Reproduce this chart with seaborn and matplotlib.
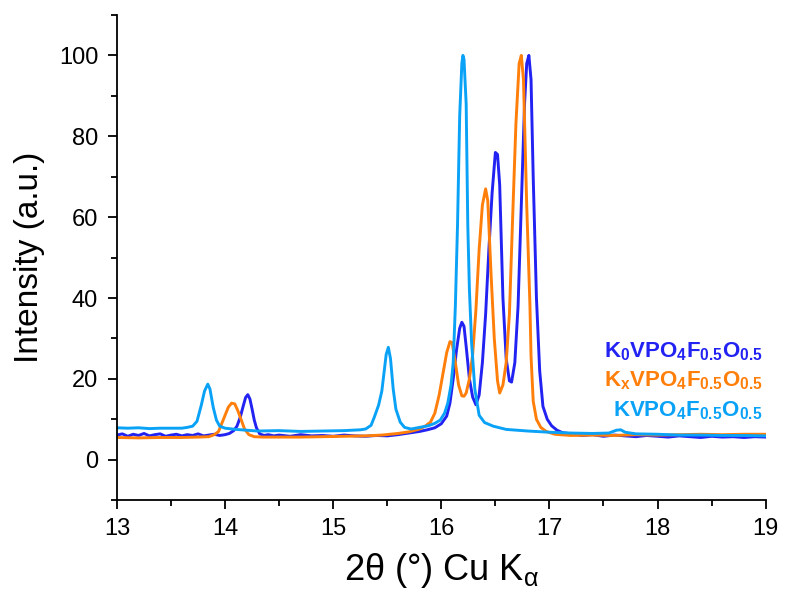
import matplotlib
matplotlib.use("Agg")
import matplotlib.pyplot as plt
import seaborn as sns
import pandas as pd
from matplotlib.ticker import MultipleLocator

# K0VPO4F0.5O0.5 pattern (2theta, intensity)
k0_x = [13.00, 13.05, 13.10, 13.15, 13.20, 13.25, 13.30, 13.35, 13.40, 13.45,
        13.50, 13.55, 13.60, 13.65, 13.70, 13.75, 13.80, 13.85, 13.90, 13.95,
        14.00, 14.04, 14.08, 14.11, 14.14, 14.17, 14.19, 14.21, 14.23, 14.25,
        14.27, 14.29, 14.32, 14.36, 14.40, 14.45, 14.50, 14.60, 14.70, 14.80,
        14.90, 15.00, 15.10, 15.20, 15.30, 15.40, 15.50, 15.60, 15.70, 15.80,
        15.87, 15.94, 16.00, 16.05, 16.08, 16.11, 16.14, 16.17, 16.19, 16.21,
        16.23, 16.26, 16.29, 16.32, 16.35, 16.38, 16.41, 16.44, 16.47, 16.50,
        16.52, 16.54, 16.57, 16.60, 16.63, 16.65, 16.68, 16.71, 16.74, 16.77,
        16.79, 16.81, 16.83, 16.85, 16.88, 16.91, 16.94, 16.98, 17.02, 17.07,
        17.12, 17.20, 17.30, 17.40, 17.50, 17.60, 17.70, 17.80, 17.90, 18.00,
        18.10, 18.20, 18.30, 18.40, 18.50, 18.60, 18.70, 18.80, 18.90, 19.00]
k0_y = [6.1, 6.4, 5.8, 6.3, 6.0, 6.5, 5.9, 6.2, 6.4, 5.8,
        6.1, 6.3, 5.9, 6.2, 6.0, 6.4, 5.9, 6.1, 6.3, 6.0,
        6.2, 6.5, 7.2, 8.3, 10.5, 13.5, 15.4, 16.1, 15.0, 12.5,
        9.8, 7.9, 6.4, 6.0, 6.2, 5.9, 6.1, 5.8, 6.2, 5.9,
        6.0, 5.8, 6.1, 5.9, 5.8, 6.0, 5.9, 6.2, 6.6, 7.0,
        7.4, 7.9, 8.9, 10.8, 14.0, 20.0, 27.0, 32.5, 34.0, 33.0,
        28.0, 20.0, 15.5, 13.6, 16.0, 24.0, 36.0, 52.0, 66.0, 76.0,
        75.5, 68.0, 40.0, 25.0, 19.5, 19.2, 24.0, 38.0, 63.0, 88.0,
        98.0, 100.0, 94.0, 70.0, 40.0, 22.0, 13.2, 10.0, 8.4, 7.3,
        6.7, 6.4, 6.0, 6.2, 5.8, 6.1, 5.9, 5.7, 6.0, 5.8,
        5.6, 5.9, 5.7, 5.5, 5.8, 5.6, 5.7, 5.5, 5.7, 5.6]

# KxVPO4F0.5O0.5 pattern
kx_x = [13.00, 13.20, 13.40, 13.60, 13.75, 13.85, 13.90, 13.94, 13.97, 14.00,
        14.03, 14.06, 14.09, 14.12, 14.15, 14.18, 14.22, 14.27, 14.35, 14.50,
        14.70, 14.90, 15.10, 15.30, 15.45, 15.60, 15.70, 15.80, 15.85, 15.90,
        15.94, 15.98, 16.02, 16.05, 16.08, 16.10, 16.13, 16.16, 16.19, 16.21,
        16.23, 16.26, 16.29, 16.32, 16.35, 16.38, 16.41, 16.43, 16.46, 16.49,
        16.52, 16.54, 16.57, 16.60, 16.63, 16.66, 16.69, 16.72, 16.74, 16.76,
        16.79, 16.82, 16.83, 16.85, 16.88, 16.92, 16.97, 17.05, 17.20, 17.40,
        17.60, 17.80, 18.00, 18.20, 18.40, 18.60, 18.80, 19.00]
kx_y = [5.5, 5.4, 5.5, 5.5, 5.6, 5.7, 6.2, 7.0, 9.0, 11.0,
        13.0, 14.0, 13.8, 12.0, 9.8, 7.6, 6.2, 5.7, 5.6, 5.6,
        5.6, 5.7, 5.8, 5.9, 6.1, 6.5, 6.9, 7.6, 8.3, 9.3,
        11.5, 16.0, 22.0, 26.5, 29.2, 29.0, 24.0, 18.5, 15.8, 15.7,
        16.5, 20.0, 26.0, 37.0, 52.0, 63.0, 67.0, 64.0, 46.0, 30.0,
        19.5, 16.5, 18.5, 24.0, 36.0, 60.0, 83.0, 98.0, 100.0, 94.0,
        63.0, 38.0, 25.6, 14.5, 10.0, 8.0, 7.0, 6.3, 6.0, 6.1,
        6.0, 6.2, 6.1, 6.2, 6.3, 6.2, 6.3, 6.3]

# KVPO4F0.5O0.5 pattern
kv_x = [13.00, 13.10, 13.20, 13.30, 13.40, 13.50, 13.60, 13.65, 13.70, 13.74,
        13.78, 13.81, 13.84, 13.86, 13.89, 13.92, 13.95, 14.00, 14.10, 14.20,
        14.30, 14.50, 14.70, 14.90, 15.10, 15.25, 15.30, 15.35, 15.38, 15.42,
        15.45, 15.47, 15.49, 15.51, 15.53, 15.555, 15.58, 15.62, 15.66, 15.72,
        15.80, 15.88, 15.94, 15.99, 16.03, 16.06, 16.09, 16.11, 16.13, 16.15,
        16.17, 16.19, 16.20, 16.21, 16.23, 16.245, 16.26, 16.28, 16.31, 16.35,
        16.40, 16.48, 16.60, 16.80, 17.00, 17.20, 17.40, 17.55, 17.62, 17.66,
        17.70, 17.80, 18.00, 18.20, 18.40, 18.60, 18.80, 19.00]
kv_y = [7.9, 7.8, 7.9, 7.7, 7.8, 7.8, 7.8, 8.0, 8.3, 9.5,
        13.5, 17.0, 18.7, 17.5, 13.0, 9.8, 8.3, 7.8, 7.5, 7.3,
        7.1, 7.2, 7.0, 7.1, 7.2, 7.4, 7.6, 8.5, 10.5, 13.5,
        17.0, 21.5, 26.0, 27.8, 25.0, 17.5, 12.5, 9.3, 8.0, 7.6,
        8.0, 8.4, 9.0, 9.8, 11.5, 14.0, 18.5, 24.0, 38.0, 58.0,
        85.0, 98.0, 100.0, 99.0, 88.0, 58.0, 42.0, 29.0, 17.5, 11.0,
        9.2, 8.3, 7.5, 7.1, 6.8, 6.6, 6.5, 6.6, 7.3, 7.4,
        6.8, 6.4, 6.3, 6.1, 6.1, 6.0, 6.0, 5.9]

series_labels = [r"$\mathbf{K_0VPO_4F_{0.5}O_{0.5}}$",
                 r"$\mathbf{K_xVPO_4F_{0.5}O_{0.5}}$",
                 r"$\mathbf{KVPO_4F_{0.5}O_{0.5}}$"]
series_colors = ["#2222F2", "#FF7F0A", "#0AA2F7"]
label_y = [26.8, 19.6, 12.2]

sns.set_theme(style="ticks")
plt.rcParams["font.family"] = ["Liberation Sans", "DejaVu Sans"]
plt.rcParams["mathtext.fontset"] = "custom"
plt.rcParams["mathtext.rm"] = "Liberation Sans"
plt.rcParams["mathtext.it"] = "Liberation Sans:italic"
plt.rcParams["mathtext.bf"] = "Liberation Sans:bold"

frames = []
for name, xs, ys in zip(["K0", "Kx", "KV"], [k0_x, kx_x, kv_x], [k0_y, kx_y, kv_y]):
    frames.append(pd.DataFrame({"two_theta": xs, "intensity": ys, "sample": name}))
df = pd.concat(frames, ignore_index=True)

fig = plt.figure(figsize=(7.93, 5.99), dpi=100)
ax = fig.add_axes([0.1475, 0.165, 0.818, 0.81])

sns.lineplot(data=df, x="two_theta", y="intensity", hue="sample",
             palette=dict(zip(["K0", "Kx", "KV"], series_colors)),
             linewidth=2.1, legend=False, sort=False, estimator=None, ax=ax)

ax.set_xlim(13, 19)
ax.set_ylim(-10, 110)
ax.xaxis.set_major_locator(MultipleLocator(1))
ax.xaxis.set_minor_locator(MultipleLocator(0.5))
ax.yaxis.set_major_locator(MultipleLocator(20))
ax.yaxis.set_minor_locator(MultipleLocator(10))
ax.set_yticks([0, 20, 40, 60, 80, 100])
ax.tick_params(axis="both", which="major", direction="out", length=6.5, width=1.3,
               labelsize=17, color="black", labelcolor="black")
ax.tick_params(axis="y", which="major", pad=7)
ax.tick_params(axis="x", which="major", pad=6)
ax.tick_params(axis="both", which="minor", direction="out", length=4, width=1.3,
               color="black")
for side in ["top", "right"]:
    ax.spines[side].set_visible(False)
for side in ["left", "bottom"]:
    ax.spines[side].set_linewidth(1.3)
    ax.spines[side].set_color("black")

ax.set_xlabel(r"2θ (°) Cu K$_{\mathrm{α}}$", fontsize=26, color="black", labelpad=8)
ax.set_ylabel("Intensity (a.u.)", fontsize=24, color="black", labelpad=10)

for lab, col, yy in zip(series_labels, series_colors, label_y):
    ax.text(18.97, yy, lab, color=col, fontsize=16, ha="right", va="center")

fig.savefig("out.png", dpi=100)
